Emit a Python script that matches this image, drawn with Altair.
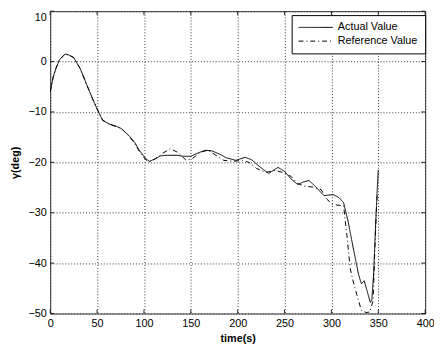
import altair as alt
import pandas as pd

# ---- data ----
actual_t = [0, 3, 6, 10, 16, 20, 25, 32, 39, 45, 50, 56, 63, 70, 76, 84, 90, 95, 102, 106,
            112, 118, 125, 135, 142, 150, 158, 166, 172, 180, 188, 198, 208, 215, 223, 233,
            243, 250, 257, 264, 270, 276, 283, 292, 302, 308, 313, 318, 324, 329, 332, 335,
            338, 341.5, 343, 345, 347, 349, 350]
actual_y = [-6.0, -3.2, -1.4, 0.4, 1.5, 1.3, 0.8, -1.4, -4.6, -7.3, -9.4, -11.7, -12.4, -12.8,
            -13.3, -14.7, -16.0, -17.6, -19.3, -19.8, -19.3, -18.7, -18.6, -18.6, -18.8, -18.8,
            -18.1, -17.6, -17.7, -18.3, -19.1, -19.6, -19.0, -19.5, -20.8, -22.2, -21.0, -21.8,
            -23.3, -24.4, -23.9, -23.6, -24.8, -26.6, -26.4, -27.0, -28.0, -31.9, -37.7, -42.3,
            -44.1, -43.5, -45.5, -47.8, -47.4, -42.3, -33.0, -24.8, -21.5]

ref_t = [0, 3, 6, 10, 16, 20, 25, 32, 39, 45, 50, 56, 63, 70, 76, 84, 90, 95, 102, 106,
         112, 120, 128, 136, 145, 152, 160, 168, 176, 185, 195, 205, 212, 220, 230, 240,
         248, 257, 264, 271, 280, 289, 295, 301, 307, 313, 316.5, 320, 323, 327, 332, 337,
         341, 344.5, 346, 348, 349]
ref_y = [-6.0, -3.2, -1.4, 0.4, 1.5, 1.3, 0.8, -1.4, -4.6, -7.3, -9.4, -11.6, -12.4, -12.9,
         -13.3, -14.8, -16.2, -17.8, -19.5, -19.9, -19.3, -18.2, -17.3, -18.0, -19.6, -19.2,
         -18.0, -17.6, -18.5, -19.6, -19.8, -19.6, -20.0, -21.2, -22.0, -21.6, -22.0, -22.8,
         -24.2, -24.7, -24.9, -25.4, -27.3, -28.3, -28.5, -28.6, -34.5, -41.0, -43.5, -46.2,
         -49.4, -49.8, -49.7, -47.4, -39.0, -29.3, -26.0]

series_names = ["Actual Value", "Reference Value"]
x_ticks = [0, 50, 100, 150, 200, 250, 300, 350, 400]
y_ticks = [-50, -40, -30, -20, -10, 0, 10]

df = pd.concat([
    pd.DataFrame({"t": actual_t, "value": actual_y, "series": series_names[0]}),
    pd.DataFrame({"t": ref_t, "value": ref_y, "series": series_names[1]}),
])

W, H = 382, 308
FONT = "Liberation Sans"
GRID = "#333333"

xscale = alt.Scale(domain=[0, 400], nice=False, zero=False)
yscale = alt.Scale(domain=[-50, 10], nice=False, zero=False)

xaxis = alt.Axis(values=x_ticks, grid=True, gridColor=GRID, gridDash=[1, 2], gridWidth=1,
                 ticks=False, domain=False, labelFont=FONT, labelFontSize=11,
                 labelColor="black", labelPadding=4, labelFlush=False,
                 title="time(s)", titleFont=FONT, titleFontSize=11, titleFontWeight="bold",
                 titleColor="black", titleY=20)
yaxis = alt.Axis(values=y_ticks, grid=True, gridColor=GRID, gridDash=[1, 2], gridWidth=1,
                 ticks=False, domain=False, labelFont=FONT, labelFontSize=11,
                 labelColor="black", labelPadding=4, labelFlush=False,
                 labelBaseline={"condition": {"test": "datum.value == 10", "value": "top"},
                                "value": "middle"},
                 title="γ(deg)", titleFont=FONT, titleFontSize=11, titleFontWeight="bold",
                 titleColor="black", titlePadding=8)

xenc = alt.X("t:Q", scale=xscale, axis=xaxis)
yenc = alt.Y("value:Q", scale=yscale, axis=yaxis)

lines = alt.Chart(df).mark_line(strokeWidth=1, clip=True, color="black").encode(
    x=xenc,
    y=yenc,
    strokeDash=alt.StrokeDash(
        "series:N",
        scale=alt.Scale(domain=series_names, range=[[1, 0], [5, 3, 1, 3]]),
        legend=alt.Legend(title=None, orient="none", legendX=246, legendY=4,
                          strokeColor="black", fillColor="white", padding=7,
                          symbolType="M-5,0H5", symbolSize=49, symbolStrokeWidth=1,
                          symbolStrokeColor="black", symbolOffset=12,
                          labelOffset=17, labelFont=FONT, labelFontSize=11,
                          labelColor="black", rowPadding=2, cornerRadius=0),
    ),
)

xt = pd.DataFrame({"t": x_ticks})
yt = pd.DataFrame({"value": y_ticks})
tick_bottom = alt.Chart(xt).mark_rule(color="#222", strokeWidth=1).encode(
    x=xenc, y=alt.value(H), y2=alt.value(H - 4))
tick_top = alt.Chart(xt).mark_rule(color="#222", strokeWidth=1).encode(
    x=xenc, y=alt.value(0), y2=alt.value(4))
tick_left = alt.Chart(yt).mark_rule(color="#222", strokeWidth=1).encode(
    y=yenc, x=alt.value(0), x2=alt.value(4))
tick_right = alt.Chart(yt).mark_rule(color="#222", strokeWidth=1).encode(
    y=yenc, x=alt.value(W - 4), x2=alt.value(W))

chart = alt.layer(lines, tick_bottom, tick_top, tick_left, tick_right).properties(
    width=W, height=H,
    padding={"left": 43, "top": 0, "right": 9, "bottom": 38},
    autosize=alt.AutoSizeParams(type="none"),
    background="white",
).configure_view(stroke="#333333", strokeWidth=1)

chart.save("out.html", embed_options={"renderer": "svg", "actions": False})
